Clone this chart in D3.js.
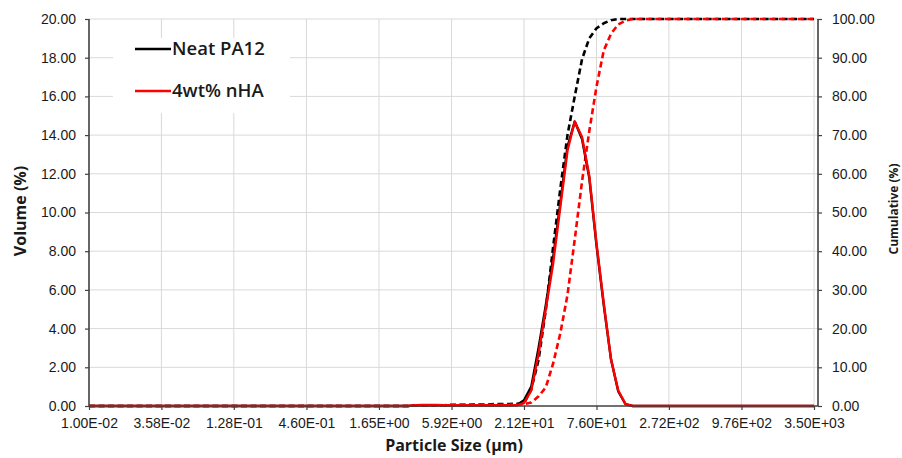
<!DOCTYPE html>
<html>
<head>
<meta charset="utf-8">
<script src="https://cdn.jsdelivr.net/npm/d3@7"></script>
<style>
    body { margin: 0; background: #fff; }
    svg { font-family: 'Open Sans', sans-serif; }
    .grid line { stroke: #d9d9d9; stroke-width: 1; }
</style>
</head>
<body>
<svg class="psd"></svg>
<script>
// size classes (µm) where the curves change, plus the two ends of the range
const SIZES = [0.01, 2.75, 3.12, 3.55, 4.03, 4.58, 5.21, 5.92, 6.72, 7.64, 8.68, 9.86, 11.2,
    12.7, 14.5, 16.4, 18.7, 21.2, 24.1, 27.4, 31.1, 35.3, 40.2, 45.6, 51.8, 58.9, 66.9,
    76.0, 86.4, 98.2, 111.5, 126.7, 144.0, 163.6, 3500]

const NEAT_VOLUME = [0, 0, 0.03, 0.04, 0.04, 0.04, 0.04, 0.04, 0.04, 0.04, 0.04, 0.04, 0.04,
    0.04, 0.04, 0.04, 0.05, 0.3, 1.0, 3.0, 5.2, 7.6, 10.5, 13.4, 14.7, 13.8, 11.8,
    8.3, 5.2, 2.4, 0.75, 0.1, 0, 0, 0]
const NHA_VOLUME = [0, 0, 0.04, 0.05, 0.05, 0.05, 0.04, 0.04, 0.04, 0.04, 0.04, 0.04, 0.04,
    0.04, 0.04, 0.04, 0.04, 0.15, 0.8, 2.7, 5.0, 7.3, 10.3, 13.2, 14.7, 13.9, 11.9,
    8.4, 5.3, 2.4, 0.8, 0.1, 0, 0, 0]
const NEAT_CUMULATIVE = [0, 0, 0.1, 0.1, 0.2, 0.2, 0.2, 0.3, 0.3, 0.3, 0.4, 0.4, 0.4,
    0.5, 0.5, 0.5, 0.6, 0.7, 4.3, 11.9, 24.7, 40.7, 56.2, 70.0, 80.0, 89.6, 95.0,
    97.6, 98.9, 99.7, 100, 100, 100, 100, 100]
const NHA_CUMULATIVE = [0, 0, 0.1, 0.1, 0.1, 0.2, 0.2, 0.2, 0.3, 0.3, 0.3, 0.3, 0.3,
    0.3, 0.3, 0.3, 0.4, 0.5, 0.9, 2.5, 4.8, 10.8, 18.8, 28.7, 43.0, 58.0, 71.0,
    82.5, 91.9, 96.2, 98.6, 99.6, 100, 100, 100]

const X_TICKS = [0.01, 0.0358, 0.128, 0.46, 1.65, 5.92, 21.2, 76.0, 272, 976, 3500]
const X_TICK_LABELS = ['1.00E-02', '3.58E-02', '1.28E-01', '4.60E-01', '1.65E+00', '5.92E+00',
    '2.12E+01', '7.60E+01', '2.72E+02', '9.76E+02', '3.50E+03']
const VOLUME_TICKS = [0, 2, 4, 6, 8, 10, 12, 14, 16, 18, 20]
const CUMULATIVE_TICKS = [0, 10, 20, 30, 40, 50, 60, 70, 80, 90, 100]

const LEGEND = ['Neat PA12', '4wt% nHA']
const BLACK = '#000000'
const RED = '#ff0000'

const width = 902
const height = 458
const margin = { top: 19, left: 89 }
const plotW = 729
const plotH = 387

const svg = d3.select('.psd')
    .attr('width', width)
    .attr('height', height)

const g = svg.append('g')
    .attr('transform', `translate(${margin.left},${margin.top})`)

const x = d3.scaleLog().domain([0.01, 3500]).range([0, 725])
const yVol = d3.scaleLinear().domain([0, 20]).range([plotH, 0])
const yCum = d3.scaleLinear().domain([0, 100]).range([plotH, 0])

function drawGrid() {
    const grid = g.append('g').attr('class', 'grid')
    grid.selectAll('.h')
        .data(VOLUME_TICKS.slice(1))
        .enter().append('line')
        .attr('x1', 0).attr('x2', plotW)
        .attr('y1', d => yVol(d)).attr('y2', d => yVol(d))
    grid.selectAll('.v')
        .data(X_TICKS.slice(1))
        .enter().append('line')
        .attr('x1', d => x(d)).attr('x2', d => x(d))
        .attr('y1', 0).attr('y2', plotH)
}

function styleAxis(axisG) {
    axisG.select('.domain').remove()
    axisG.selectAll('.tick line').attr('stroke', '#404040').attr('stroke-width', 1.2)
    axisG.selectAll('.tick text')
        .attr('fill', '#1a1a1a')
        .style('font-size', '14px')
}

function drawAxes() {
    const left = g.append('g')
        .call(d3.axisLeft(yVol).tickValues(VOLUME_TICKS).tickSize(4).tickPadding(9)
            .tickFormat(d3.format('.2f')))
    styleAxis(left)

    const right = g.append('g')
        .attr('transform', `translate(${plotW},0)`)
        .call(d3.axisRight(yCum).tickValues(CUMULATIVE_TICKS).tickSize(4).tickPadding(10)
            .tickFormat(d3.format('.2f')))
    styleAxis(right)

    const bottom = g.append('g')
        .attr('transform', `translate(0,${plotH})`)
        .call(d3.axisBottom(x).tickValues(X_TICKS).tickSize(4).tickPadding(8)
            .tickFormat((d, i) => X_TICK_LABELS[i]))
    styleAxis(bottom)

    // axis lines
    const lines = [[0, 0, 0, plotH], [plotW, 0, plotW, plotH], [0, plotH, plotW, plotH]]
    g.selectAll('.axisLine')
        .data(lines)
        .enter().append('line')
        .attr('x1', d => d[0]).attr('y1', d => d[1])
        .attr('x2', d => d[2]).attr('y2', d => d[3])
        .attr('stroke', '#404040')
        .attr('stroke-width', 1.6)
}

function drawSeries(values, yScale, color, dashed) {
    const line = d3.line()
        .x((d, i) => x(SIZES[i]))
        .y(d => yScale(d))
    g.append('path')
        .datum(values)
        .attr('d', line)
        .attr('fill', 'none')
        .attr('stroke', color)
        .attr('stroke-width', dashed ? 2.6 : 2.4)
        .attr('stroke-dasharray', dashed ? '6,3.5' : null)
        .attr('stroke-linejoin', 'round')
}

function drawLegend() {
    const legendG = svg.append('g')
    legendG.append('rect')
        .attr('x', 113).attr('y', 38)
        .attr('width', 177).attr('height', 75)
        .attr('fill', '#fff')
    const item = legendG.selectAll('.legend')
        .data(LEGEND)
        .enter().append('g')
        .attr('class', 'legend')
        .attr('transform', (d, i) => `translate(0,${i * 42})`)
    item.append('line')
        .attr('x1', 135).attr('x2', 171)
        .attr('y1', 49).attr('y2', 49)
        .attr('stroke', (d, i) => i === 0 ? BLACK : RED)
        .attr('stroke-width', 2.4)
    item.append('text')
        .attr('x', 172)
        .attr('y', 55)
        .style('font-size', '18.5px')
        .style('font-weight', 600)
        .attr('fill', '#1a1a1a')
        .text(d => d)
}

function drawTitles() {
    svg.append('text')
        .attr('transform', 'translate(26,211) rotate(-90)')
        .attr('text-anchor', 'middle')
        .style('font-size', '16px')
        .style('font-weight', 'bold')
        .attr('fill', '#1a1a1a')
        .text('Volume (%)')

    svg.append('text')
        .attr('transform', 'translate(898,209) rotate(-90)')
        .attr('text-anchor', 'middle')
        .style('font-size', '12px')
        .style('font-weight', 'bold')
        .attr('fill', '#1a1a1a')
        .text('Cumulative (%)')

    svg.append('text')
        .attr('x', 454)
        .attr('y', 451)
        .attr('text-anchor', 'middle')
        .style('font-size', '16px')
        .style('font-weight', 'bold')
        .attr('fill', '#1a1a1a')
        .text('Particle Size (µm)')
}

drawGrid()
drawSeries(NEAT_CUMULATIVE, yCum, BLACK, true)
drawSeries(NHA_CUMULATIVE, yCum, RED, true)
drawSeries(NEAT_VOLUME, yVol, BLACK, false)
drawSeries(NHA_VOLUME, yVol, RED, false)
drawAxes()
drawLegend()
drawTitles()
</script>
</body>
</html>
